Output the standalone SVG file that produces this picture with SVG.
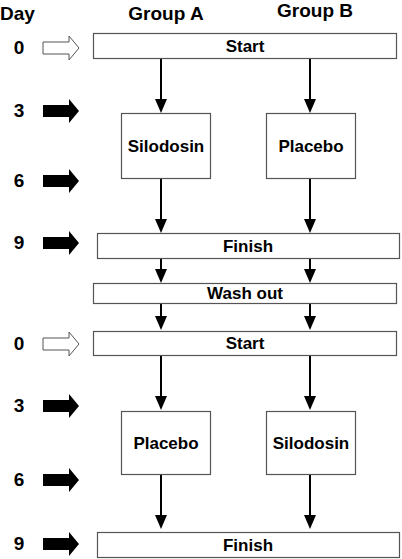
<svg xmlns="http://www.w3.org/2000/svg" xmlns:xlink="http://www.w3.org/1999/xlink" width="402" height="559" viewBox="0 0 402 559">
<style>
text{font-family:"Liberation Sans",Arial,sans-serif;font-weight:bold;fill:#000}
.hd{font-size:19px}
.day{font-size:19px;text-anchor:middle}
.lb{font-size:17px;text-anchor:middle}
.box{fill:#fff;stroke:#555;stroke-width:1.2}
.ln{stroke:#000;stroke-width:2;fill:none;marker-end:url(#ah)}
</style>
<defs>
<marker id="ah" markerUnits="userSpaceOnUse" markerWidth="14" markerHeight="12" refX="6" refY="6" orient="auto"><path d="M0,0 L14,6 L0,12 z" fill="#000"/></marker>
<path id="darr" d="M43,-6 L69,-6 L69,-12 L79,0 L69,12 L69,6 L43,6 Z"/>
</defs>
<g id="headers">
<text class="hd" x="0" y="20">Day</text>
<text class="hd" x="166" y="20" text-anchor="middle">Group A</text>
<text class="hd" x="315" y="17" text-anchor="middle">Group B</text>
</g>
<g id="days">
<text class="day" x="19" y="54">0</text>
<use xlink:href="#darr" transform="translate(0,48)" fill="#fff" stroke="#555" stroke-width="1"/>
<text class="day" x="19" y="117">3</text>
<use xlink:href="#darr" transform="translate(0,111)" fill="#000"/>
<text class="day" x="19" y="187">6</text>
<use xlink:href="#darr" transform="translate(0,181)" fill="#000"/>
<text class="day" x="19" y="249">9</text>
<use xlink:href="#darr" transform="translate(0,243)" fill="#000"/>
<text class="day" x="19" y="350">0</text>
<use xlink:href="#darr" transform="translate(0,344)" fill="#fff" stroke="#555" stroke-width="1"/>
<text class="day" x="19" y="412">3</text>
<use xlink:href="#darr" transform="translate(0,406)" fill="#000"/>
<text class="day" x="19" y="486">6</text>
<use xlink:href="#darr" transform="translate(0,480)" fill="#000"/>
<text class="day" x="19" y="550">9</text>
<use xlink:href="#darr" transform="translate(0,544)" fill="#000"/>
</g>
<g id="connectors">
<line class="ln" x1="161" y1="58" x2="161" y2="105"/>
<line class="ln" x1="310" y1="58" x2="310" y2="105"/>
<line class="ln" x1="161" y1="178" x2="161" y2="225"/>
<line class="ln" x1="310" y1="178" x2="310" y2="225"/>
<line class="ln" x1="161" y1="258" x2="161" y2="275"/>
<line class="ln" x1="310" y1="258" x2="310" y2="275"/>
<line class="ln" x1="161" y1="303" x2="161" y2="322"/>
<line class="ln" x1="310" y1="303" x2="310" y2="322"/>
<line class="ln" x1="161" y1="355" x2="161" y2="402"/>
<line class="ln" x1="310" y1="355" x2="310" y2="402"/>
<line class="ln" x1="161" y1="474" x2="161" y2="521"/>
<line class="ln" x1="310" y1="474" x2="310" y2="521"/>
</g>
<g id="start1"><rect class="box" x="93.5" y="33.5" width="303" height="25"/><text class="lb" x="245" y="52">Start</text></g>
<g id="silodosinA"><rect class="box" x="121.5" y="113.5" width="89" height="65"/><text class="lb" x="166" y="152">Silodosin</text></g>
<g id="placeboB"><rect class="box" x="266.5" y="113.5" width="89" height="65"/><text class="lb" x="311" y="152">Placebo</text></g>
<g id="finish1"><rect class="box" x="97.5" y="233.5" width="302" height="25"/><text class="lb" x="248" y="252">Finish</text></g>
<g id="washout"><rect class="box" x="93.5" y="283.5" width="303" height="20"/><text class="lb" x="245" y="299">Wash out</text></g>
<g id="start2"><rect class="box" x="93.5" y="331.5" width="303" height="24"/><text class="lb" x="245" y="349">Start</text></g>
<g id="placeboA"><rect class="box" x="121.5" y="411.5" width="89" height="63"/><text class="lb" x="166" y="449">Placebo</text></g>
<g id="silodosinB"><rect class="box" x="266.5" y="411.5" width="89" height="63"/><text class="lb" x="311" y="449">Silodosin</text></g>
<g id="finish2"><rect class="box" x="97.5" y="532.5" width="302" height="25"/><text class="lb" x="248" y="551">Finish</text></g>
</svg>
